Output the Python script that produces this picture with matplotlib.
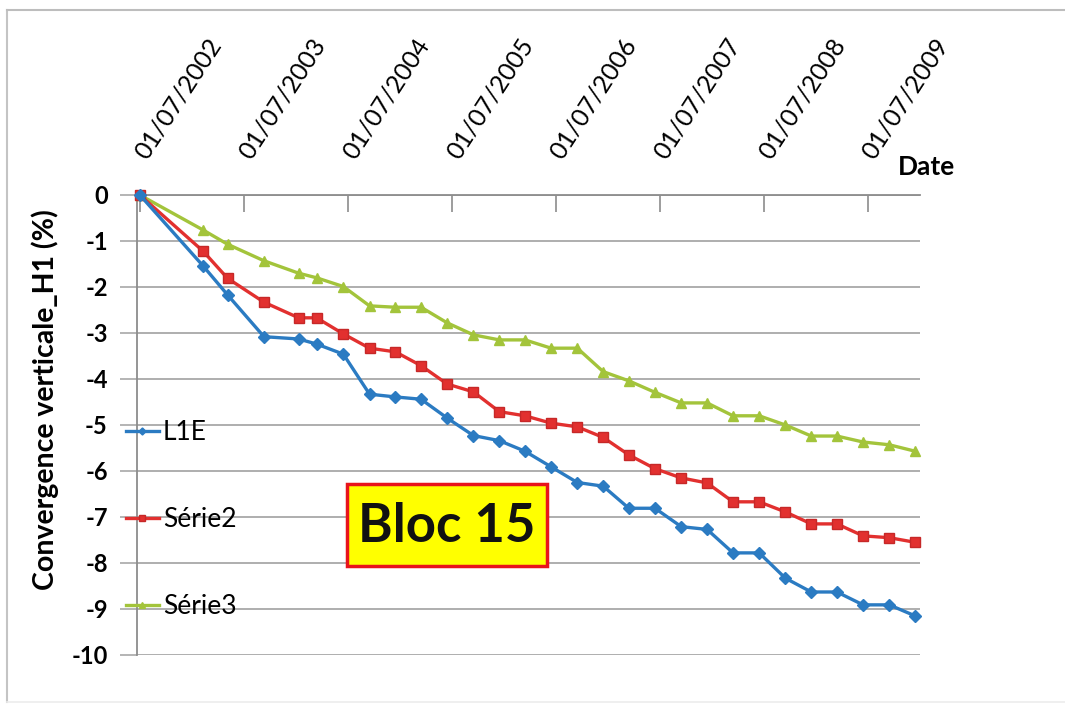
import matplotlib
matplotlib.use("Agg")
import matplotlib.pyplot as plt
import matplotlib.dates as mdates
from matplotlib.lines import Line2D
from matplotlib.patches import Rectangle
from matplotlib.transforms import ScaledTranslation
from datetime import date

plt.rcParams["font.family"] = ["Lato", "DejaVu Sans"]

# ── Data ────────────────────────────────────────────────────────────
dates = [
    "2002-07-01", "2003-02-08", "2003-05-05", "2003-09-10", "2004-01-10", "2004-03-13",
    "2004-06-15", "2004-09-15", "2004-12-15",
    "2005-03-15", "2005-06-15", "2005-09-15", "2005-12-15",
    "2006-03-15", "2006-06-15", "2006-09-15", "2006-12-15",
    "2007-03-15", "2007-06-15", "2007-09-15", "2007-12-15",
    "2008-03-15", "2008-06-15", "2008-09-15", "2008-12-15",
    "2009-03-15", "2009-06-15", "2009-09-15", "2009-12-15",
]

l1e = [0, -1.54, -2.17, -3.08, -3.13, -3.24, -3.46, -4.33, -4.39, -4.44,
       -4.85, -5.23, -5.34, -5.57, -5.91, -6.25, -6.33, -6.81, -6.81, -7.21,
       -7.27, -7.78, -7.78, -8.33, -8.63, -8.63, -8.91, -8.91, -9.15]

serie2 = [0, -1.22, -1.81, -2.33, -2.67, -2.67, -3.02, -3.33, -3.41, -3.71,
          -4.11, -4.28, -4.71, -4.80, -4.96, -5.04, -5.27, -5.65, -5.95, -6.15,
          -6.26, -6.67, -6.67, -6.89, -7.15, -7.15, -7.41, -7.45, -7.55]

serie3 = [0, -0.76, -1.07, -1.43, -1.70, -1.80, -1.99, -2.41, -2.44, -2.44,
          -2.78, -3.04, -3.15, -3.15, -3.33, -3.33, -3.84, -4.04, -4.29, -4.52,
          -4.52, -4.80, -4.80, -5.00, -5.24, -5.24, -5.37, -5.43, -5.57]

tick_labels = ["01/07/2002", "01/07/2003", "01/07/2004", "01/07/2005",
               "01/07/2006", "01/07/2007", "01/07/2008", "01/07/2009"]
y_ticks = list(range(-10, 1))

# ── Styles ──────────────────────────────────────────────────────────
BLUE = "#2b7bc2"
RED = "#e2302f"
GREEN = "#a3c43b"
GRID = "#a8a8a8"
AXIS = "#8c8c8c"

W, H = 1065, 704


def fx(px):
    return px / W


def fy(py):
    return 1 - py / H


x = [date.fromisoformat(d) for d in dates]
ticks = [date(int(t[-4:]), 7, 1) for t in tick_labels]

fig = plt.figure(figsize=(W / 100, H / 100), dpi=100)
fig.patch.set_facecolor("white")

# chart area border (left + top visible, bottom faint)
fig.add_artist(Line2D([fx(7), fx(7)], [fy(702), fy(10)], transform=fig.transFigure,
                      color="#c4c4c4", lw=1.5))
fig.add_artist(Line2D([fx(7), fx(1065)], [fy(10), fy(10)], transform=fig.transFigure,
                      color="#bdbdbd", lw=1.5))
fig.add_artist(Line2D([fx(7), fx(1065)], [fy(702), fy(702)], transform=fig.transFigure,
                      color="#ececec", lw=1.2))

ax = fig.add_axes([fx(137), fy(655), fx(920) - fx(137), fy(195) - fy(655)])

ax.plot(x, l1e, "-D", color=BLUE, lw=2.4, ms=6.5, mec=BLUE, label="L1E", clip_on=False, zorder=5)
ax.plot(x, serie2, "-s", color=RED, lw=2.4, ms=7.5, mec="#c62828", label="Série2", clip_on=False, zorder=4)
ax.plot(x, serie3, "-^", color=GREEN, lw=2.4, ms=7.5, mec=GREEN, label="Série3", clip_on=False, zorder=3)

ax.set_xlim(date(2002, 6, 21), date(2010, 1, 1))
ax.set_ylim(-10, 0)

ax.set_yticks(y_ticks)
ax.set_yticklabels([str(v) for v in y_ticks], fontsize=17, fontweight="bold")
ax.grid(axis="y", color=GRID, lw=1.3)
ax.set_axisbelow(True)

# date axis sits at the top (y = 0); labels drawn as rotated texts
ax.xaxis.tick_top()
ax.set_xticks(ticks)
ax.set_xticklabels([])
ax.tick_params(axis="x", direction="in", length=12, width=1.2, color=AXIS)
ax.tick_params(axis="y", direction="out", length=12, width=1.2, color=GRID, pad=9)

lab_tr = ax.get_xaxis_transform() + ScaledTranslation(10 / 100, 32 / 100, fig.dpi_scale_trans)
for t, lab in zip(ticks, tick_labels):
    ax.text(mdates.date2num(t), 1, lab, transform=lab_tr, rotation=57, ha="left", va="bottom",
            rotation_mode="anchor", fontsize=18, clip_on=False)

for s in ("bottom", "right"):
    ax.spines[s].set_visible(False)
for s in ("left", "top"):
    ax.spines[s].set_color(AXIS)
    ax.spines[s].set_linewidth(1.3)

ax.legend(loc="upper left", bbox_to_anchor=(fx(126), fy(420)), bbox_transform=fig.transFigure,
          frameon=False, fontsize=19, handlelength=1.25, handletextpad=0.15,
          labelspacing=2.35, borderpad=0, borderaxespad=0, markerscale=0.55)

fig.text(fx(45), fy(400), "Convergence verticale_H1 (%)", rotation=90, ha="center",
         va="center", fontsize=20.5, fontweight="bold")
fig.text(fx(927), fy(167), "Date", ha="center", va="center", fontsize=19, fontweight="bold")

# "Bloc 15" tag
fig.add_artist(Rectangle((fx(347), fy(566)), fx(547) - fx(347), fy(484) - fy(566),
                         transform=fig.transFigure, fc="#ffff00", ec="#e8141b", lw=2.5, zorder=10))
fig.text(fx(447), fy(527), "Bloc 15", ha="center", va="center", fontsize=38,
         fontweight="bold", color="#111111", zorder=11)

fig.savefig("out.png", dpi=100)
